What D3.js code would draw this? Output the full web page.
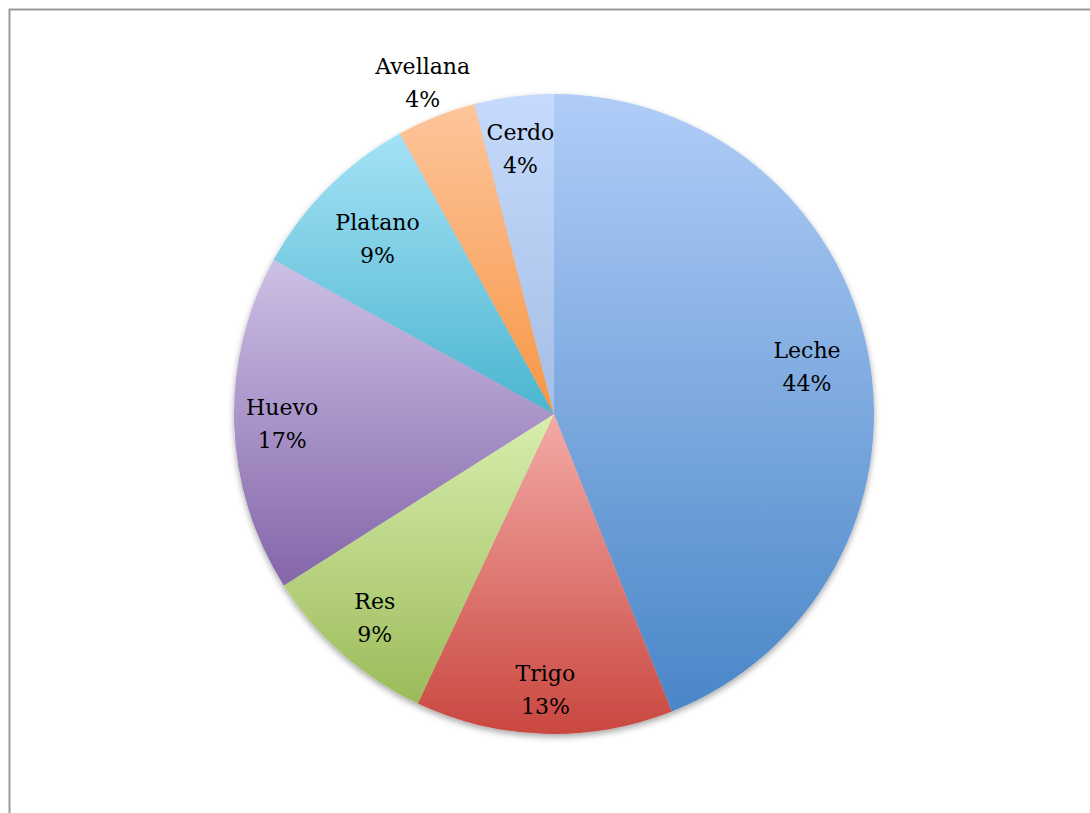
<!DOCTYPE html>
<html>
<head>
<meta charset="utf-8">
<script src="https://cdn.jsdelivr.net/npm/d3@7"></script>
<style>
  html, body { margin: 0; padding: 0; background: #fff; }
  svg { display: block; }
</style>
</head>
<body>
<svg id="chart" width="1090" height="813"></svg>
<script>
// Alergias alimentarias: porcentaje por alimento
const categories = ["Leche", "Trigo", "Res", "Huevo", "Platano", "Avellana", "Cerdo"];
const values = [44, 13, 9, 17, 9, 4, 4];
const percentLabels = ["44%", "13%", "9%", "17%", "9%", "4%", "4%"];
const topColors = ["#b0cdf7", "#f4aba7", "#d8eeae", "#cdc0e6", "#a5e2f6", "#fdc59b", "#c5dafc"];
const bottomColors = ["#4a86c8", "#c9473f", "#9bbb59", "#8465a9", "#4bb5cf", "#f79646", "#a5bee6"];
// Label distance from the centre, as a fraction of the radius (Avellana sits outside)
const labelRadiusFactors = [0.805, 0.86, 0.847, 0.85, 0.78, 1.115, 0.837];

const width = 1090, height = 813;
const cx = 554, cy = 414, R = 320;

const svg = d3.select("#chart");
const defs = svg.append("defs");

// Soft shadow under the pie
const shadow = defs.append("filter").attr("id", "pieShadow")
  .attr("x", "-10%").attr("y", "-10%").attr("width", "120%").attr("height", "120%");
shadow.append("feDropShadow")
  .attr("dx", 0).attr("dy", 3).attr("stdDeviation", 3)
  .attr("flood-color", "#000").attr("flood-opacity", 0.35);

// Vertical gradient per slice, light at the top and darker at the bottom
categories.forEach((c, i) => {
  const g = defs.append("linearGradient").attr("id", "grad" + i)
    .attr("x1", 0).attr("y1", 0).attr("x2", 0).attr("y2", 1);
  g.append("stop").attr("offset", "0%").attr("stop-color", topColors[i]);
  g.append("stop").attr("offset", "100%").attr("stop-color", bottomColors[i]);
});

// Chart frame
svg.append("path")
  .attr("d", `M9.5,${height} V9.5 H${width}`)
  .attr("fill", "none").attr("stroke", "#9a9a9a").attr("stroke-width", 2);

const data = categories.map((c, i) => ({ name: c, value: values[i], label: percentLabels[i], i }));

const pie = d3.pie().sort(null).value(d => d.value);
const arcs = pie(data);
const arc = d3.arc().innerRadius(0).outerRadius(R);

const gPie = svg.append("g")
  .attr("transform", `translate(${cx},${cy})`)
  .attr("filter", "url(#pieShadow)");

gPie.selectAll("path.slice")
  .data(arcs)
  .join("path")
  .attr("class", "slice")
  .attr("d", arc)
  .attr("fill", d => `url(#grad${d.data.i})`);

const gLabels = svg.append("g").attr("transform", `translate(${cx},${cy})`);
const labels = gLabels.selectAll("text")
  .data(arcs)
  .join("text")
  .attr("text-anchor", "middle")
  .attr("font-family", "'DejaVu Serif', serif")
  .attr("font-size", 22)
  .attr("fill", "#000")
  .attr("transform", d => {
    const a = (d.startAngle + d.endAngle) / 2;
    const r = R * labelRadiusFactors[d.data.i];
    return `translate(${r * Math.sin(a)},${-r * Math.cos(a)})`;
  });

labels.append("tspan").attr("x", 0).attr("y", -8).text(d => d.data.name);
labels.append("tspan").attr("x", 0).attr("y", 25).text(d => d.data.label);
</script>
</body>
</html>
